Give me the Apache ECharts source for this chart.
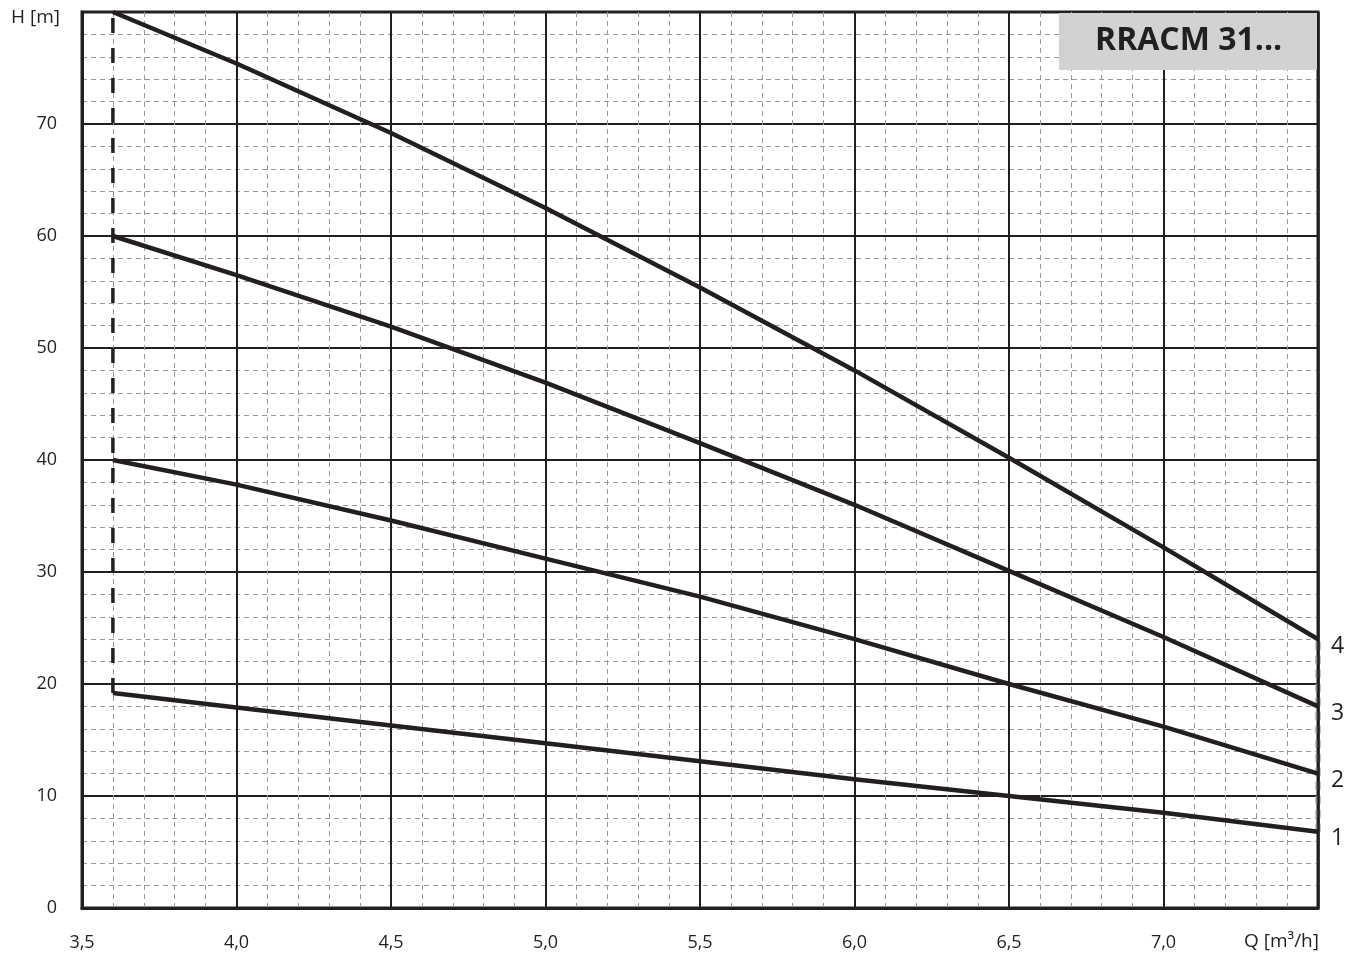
<!DOCTYPE html>
<html>
<head>
<meta charset="utf-8">
<script src="https://cdn.jsdelivr.net/npm/echarts@6/dist/echarts.min.js"></script>
<style>
html,body{margin:0;padding:0;background:#fff;}
#chart{width:1358px;height:966px;}
</style>
</head>
<body>
<div id="chart"></div>
<script>
// Flow Q [m3/h] sample points
const qPoints = [3.6, 4.0, 4.5, 5.0, 5.5, 6.0, 6.5, 7.0, 7.5];
// Head H [m] for each curve
const curve1 = [19.2, 17.9, 16.3, 14.7, 13.1, 11.5, 10.0, 8.5, 6.8];
const curve2 = [40.0, 37.8, 34.6, 31.2, 27.8, 24.0, 20.0, 16.2, 12.0];
const curve3 = [60.0, 56.5, 51.9, 46.9, 41.5, 36.0, 30.1, 24.2, 18.0];
const curve4 = [80.0, 75.4, 69.2, 62.5, 55.4, 48.0, 40.2, 32.2, 24.0];
const curveNames = ['1', '2', '3', '4'];
// Operating range limits
const leftLimitQ = 3.6;
const rightLimitQ = 7.5;
const xTicks = ['3,5', '4,0', '4,5', '5,0', '5,5', '6,0', '6,5', '7,0'];
const yTicks = ['0', '10', '20', '30', '40', '50', '60', '70'];
const titleText = 'RRACM 31...';

const INK = '#231f20';
const FONT = 'Open Sans';

const curves = [curve1, curve2, curve3, curve4];
const zip = (arr) => qPoints.map((q, i) => [q, arr[i]]);

const series = curves.map((c, i) => ({
  type: 'line',
  name: curveNames[i],
  data: zip(c),
  showSymbol: false,
  silent: true,
  lineStyle: { color: INK, width: 4.5 },
  endLabel: {
    show: true,
    formatter: curveNames[i],
    color: INK,
    fontFamily: FONT,
    fontSize: 23,
    distance: 13,
    offset: [0, 7]
  },
  z: 5
}));

// left limit dashed vertical
series.push({
  type: 'line',
  data: [[leftLimitQ, curve1[0]], [leftLimitQ, curve4[0]]],
  showSymbol: false,
  silent: true,
  lineStyle: { color: INK, width: 3.5, type: [15, 15] },
  z: 4
});
// right limit dashed vertical (grey)
series.push({
  type: 'line',
  data: [[rightLimitQ, curve1[curve1.length - 1]], [rightLimitQ, curve4[curve4.length - 1]]],
  showSymbol: false,
  silent: true,
  lineStyle: { color: '#8a8a8a', width: 5, type: [8, 6] },
  markLine: {
    silent: true,
    symbol: 'none',
    label: { show: false },
    lineStyle: { color: INK, width: 2.5, type: 'solid' },
    data: [{ xAxis: rightLimitQ }]
  },
  z: 3
});

const chart = echarts.init(document.getElementById('chart'), null, { renderer: 'canvas' });
chart.setOption({
  animation: false,
  backgroundColor: '#fff',
  grid: {
    left: 82, right: 40, top: 12, bottom: 58,
    show: true, borderColor: INK, borderWidth: 3, backgroundColor: 'transparent'
  },
  xAxis: {
    type: 'value',
    min: 3.5, max: 7.5, interval: 0.5,
    axisLine: { show: true, lineStyle: { color: INK, width: 3 } },
    axisTick: { show: false },
    axisLabel: {
      color: INK, fontFamily: FONT, fontSize: 18, margin: 26,
      formatter: (v) => {
        const idx = Math.round((v - 3.5) / 0.5);
        return idx < xTicks.length ? xTicks[idx] : '';
      }
    },
    splitLine: { show: true, lineStyle: { color: INK, width: 2 } },
    minorTick: { show: false, splitNumber: 5 },
    minorSplitLine: { show: true, lineStyle: { color: '#999999', width: 1, type: [5, 4] } }
  },
  yAxis: {
    type: 'value',
    min: 0, max: 80, interval: 10,
    axisLine: { show: true, lineStyle: { color: INK, width: 3 } },
    axisTick: { show: false },
    axisLabel: {
      color: INK, fontFamily: FONT, fontSize: 18, margin: 25,
      formatter: (v) => {
        const idx = Math.round(v / 10);
        return idx < yTicks.length ? yTicks[idx] : '';
      }
    },
    splitLine: { show: true, lineStyle: { color: INK, width: 2 } },
    minorTick: { show: false, splitNumber: 5 },
    minorSplitLine: { show: true, lineStyle: { color: '#999999', width: 1, type: [5, 4] } }
  },
  graphic: [
    {
      type: 'rect', left: 1059, top: 13, z: 10,
      shape: { width: 258, height: 57 },
      style: { fill: '#d1d2d4' }
    },
    {
      type: 'text', left: 1095, top: 25, z: 11,
      style: { text: titleText, fill: INK, font: 'bold 32px "Open Sans"' }
    },
    {
      type: 'text', left: 11, top: 8, z: 11,
      style: { text: 'H [m]', fill: INK, font: '19px "Open Sans"' }
    },
    {
      type: 'text', left: 1244, top: 932, z: 11,
      style: { text: 'Q [m³/h]', fill: INK, font: '19px "Open Sans"' }
    }
  ],
  series: series
});
</script>
</body>
</html>
